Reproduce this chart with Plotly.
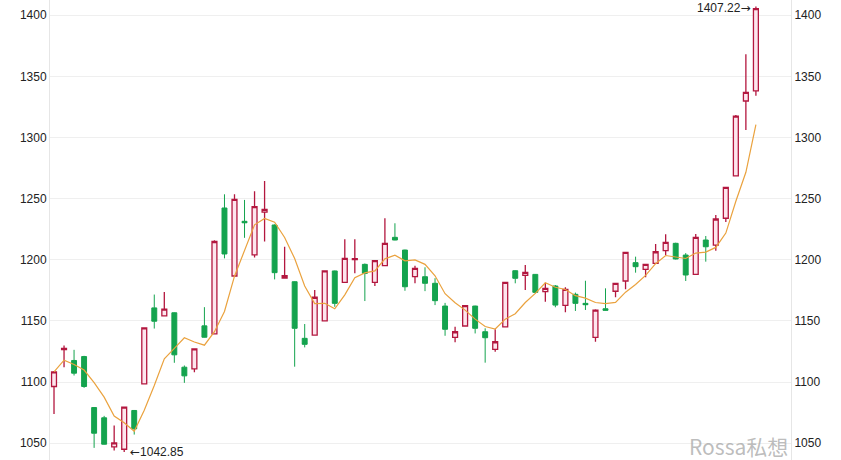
import plotly.graph_objects as go
import pandas as pd

opens = [1096.4, 1126.5, 1117.7, 1120.9, 1079.2, 1070.8, 1047.1, 1045.1, 1076.8, 1098.6,
         1160.7, 1154.2, 1156.7, 1112.2, 1110.9, 1146.0, 1139.5, 1242.4, 1186.8, 1231.5,
         1204.0, 1239.0, 1228.5, 1185.0, 1182.1, 1135.8, 1138.5, 1150.0, 1190.9, 1181.6,
         1200.2, 1196.3, 1181.6, 1195.2, 1218.4, 1208.0, 1186.2, 1186.2, 1180.8, 1162.2,
         1136.6, 1145.9, 1162.2, 1141.2, 1126.8, 1145.1, 1191.1, 1187.3, 1188.1, 1174.0,
         1178.6, 1162.8, 1171.8, 1164.4, 1136.6, 1160.0, 1174.3, 1182.7, 1197.7, 1192.2,
         1197.1, 1207.5, 1213.5, 1203.9, 1188.1, 1216.2, 1212.1, 1234.0, 1268.6, 1329.9,
         1338.1]
highs = [1109.0, 1130.0, 1126.4, 1121.5, 1079.5, 1072.4, 1064.5, 1080.0, 1077.2, 1144.8,
         1171.6, 1173.6, 1157.0, 1113.6, 1127.5, 1161.3, 1216.0, 1253.6, 1253.6, 1249.0,
         1256.0, 1264.5, 1229.0, 1210.7, 1182.4, 1147.5, 1175.3, 1191.2, 1191.2, 1216.8,
         1216.8, 1197.0, 1199.5, 1234.0, 1229.9, 1208.3, 1195.2, 1193.9, 1185.0, 1164.8,
         1145.3, 1163.0, 1162.5, 1144.0, 1143.2, 1182.0, 1191.4, 1195.8, 1188.4, 1181.3,
         1179.4, 1177.6, 1173.2, 1182.9, 1159.5, 1176.7, 1181.2, 1206.3, 1202.6, 1196.5,
         1212.9, 1220.9, 1214.0, 1205.5, 1221.2, 1219.5, 1236.7, 1259.6, 1318.5, 1368.1,
         1407.22]
lows = [1074.0, 1112.2, 1105.4, 1095.3, 1046.2, 1049.0, 1044.1, 1042.85, 1057.1, 1098.3,
        1143.8, 1153.8, 1115.8, 1099.4, 1108.1, 1136.5, 1139.0, 1201.2, 1186.5, 1218.0,
        1202.0, 1215.0, 1184.0, 1184.5, 1112.6, 1128.4, 1138.0, 1149.6, 1161.6, 1181.0,
        1189.0, 1166.3, 1178.6, 1194.8, 1216.0, 1174.7, 1180.8, 1174.4, 1163.0, 1137.9,
        1132.5, 1145.5, 1139.8, 1115.9, 1124.9, 1144.8, 1180.8, 1175.3, 1172.5, 1165.7,
        1161.2, 1157.1, 1158.2, 1159.0, 1133.0, 1158.5, 1169.4, 1175.9, 1189.5, 1185.7,
        1196.8, 1203.9, 1200.3, 1182.7, 1187.8, 1198.5, 1207.5, 1231.0, 1268.2, 1306.2,
        1334.2]
closes = [1108.4, 1127.5, 1107.3, 1096.4, 1058.2, 1049.2, 1050.3, 1079.5, 1061.8, 1144.4,
          1149.8, 1159.7, 1122.3, 1105.1, 1127.2, 1136.7, 1215.0, 1204.8, 1249.5, 1230.3,
          1243.5, 1241.3, 1189.5, 1187.0, 1144.0, 1130.9, 1169.4, 1190.9, 1164.4, 1201.2,
          1201.0, 1188.9, 1199.3, 1213.5, 1216.2, 1178.0, 1193.0, 1180.8, 1166.6, 1143.2,
          1141.2, 1162.5, 1144.0, 1136.3, 1133.0, 1181.6, 1184.9, 1189.8, 1173.4, 1176.7,
          1163.0, 1175.9, 1164.4, 1163.3, 1158.9, 1158.7, 1180.8, 1206.1, 1194.4, 1196.3,
          1206.6, 1214.3, 1200.7, 1187.6, 1218.4, 1210.7, 1233.4, 1259.3, 1317.6, 1337.0,
          1405.5]
ytick_vals = [1050, 1100, 1150, 1200, 1250, 1300, 1350, 1400]
ytick_text = ["1050", "1100", "1150", "1200", "1250", "1300", "1350", "1400"]

x = list(range(len(closes)))
ma5 = pd.Series(closes).rolling(5, min_periods=1).mean().tolist()

RED = "#b3173f"
GREEN = "#14a34e"
FONT = "Liberation Sans, Arial, sans-serif"
ARROW = "<span style='font-family:DejaVu Sans'>{}</span>"

fig = go.Figure()
fig.add_trace(go.Candlestick(
    x=x, open=opens, high=highs, low=lows, close=closes,
    increasing=dict(line=dict(color=RED, width=1.3), fillcolor="#fde6ee"),
    decreasing=dict(line=dict(color=GREEN, width=1), fillcolor=GREEN),
    whiskerwidth=0, showlegend=False, hoverinfo="skip",
))
fig.add_trace(go.Scatter(
    x=x, y=ma5, mode="lines", line=dict(color="#eaa23e", width=1.2),
    yaxis="y2", showlegend=False, hoverinfo="skip",
))

yrange = [1036.3, 1412.5]
common_y = dict(
    range=yrange, tickvals=ytick_vals, ticktext=ytick_text,
    showgrid=True, gridcolor="#efefef", gridwidth=1,
    showline=True, linecolor="#e6e6e6", linewidth=1,
    zeroline=False, ticks="", tickfont=dict(family=FONT, size=12, color="#222"),
    fixedrange=True,
)
fig.update_layout(
    width=841, height=460,
    margin=dict(l=50, r=50, t=0, b=0),
    paper_bgcolor="white", plot_bgcolor="white",
    xaxis=dict(range=[-0.4, 73.5], showgrid=False, showticklabels=False,
               zeroline=False, showline=False, rangeslider=dict(visible=False),
               fixedrange=True),
    yaxis=dict(side="left", **common_y),
    yaxis2=dict(side="right", overlaying="y", **common_y),
    font=dict(family=FONT),
)
fig.add_annotation(x=7.35, y=lows[7], text=ARROW.format("←") + f"{lows[7]:.2f}",
                   showarrow=False, xanchor="left", yanchor="middle", xref="x", yref="y",
                   font=dict(family=FONT, size=12, color="#222"))
fig.add_annotation(x=69.62, y=highs[70], text=f"{highs[70]:.2f}" + ARROW.format("→"),
                   showarrow=False, xanchor="right", yanchor="middle", xref="x", yref="y",
                   yshift=-2, font=dict(family=FONT, size=12, color="#222"))
fig.add_annotation(x=0.998, y=0.03, xref="paper", yref="paper", text="Rossa私想",
                   showarrow=False, xanchor="right", yanchor="middle",
                   font=dict(family="Noto Sans CJK SC, Liberation Sans", size=21,
                             color="rgba(160,160,160,0.7)"))
fig.write_html("out.html", config={"displayModeBar": False},
               post_script="document.body.style.margin='0px';document.body.style.overflow='hidden';")
